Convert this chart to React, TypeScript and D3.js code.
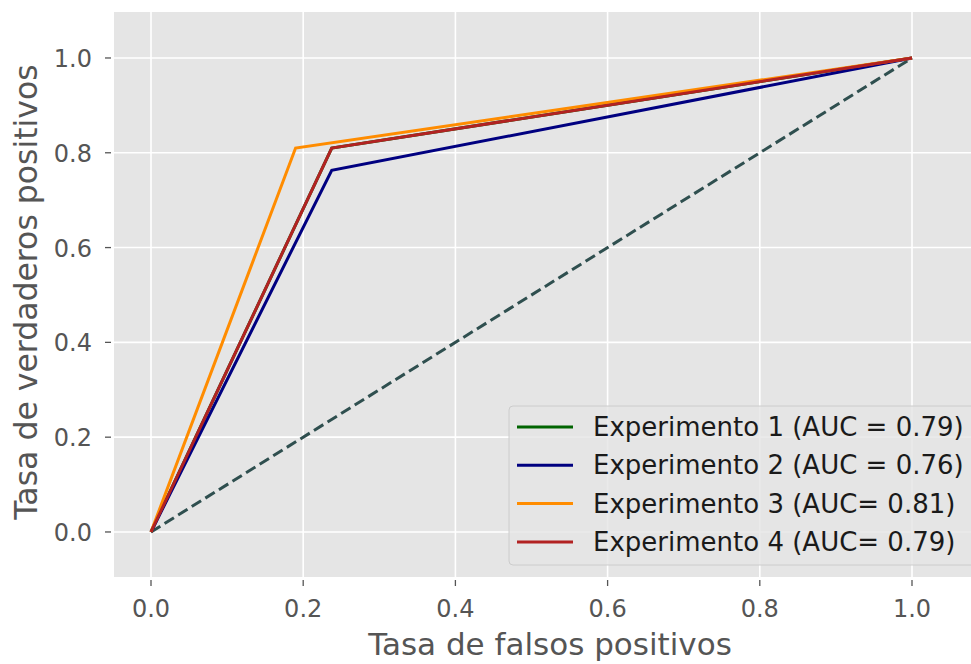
import React from "react";
import * as d3 from "d3";

const seriesNames = [
  "Experimento 1 (AUC = 0.79)",
  "Experimento 2 (AUC = 0.76)",
  "Experimento 3 (AUC= 0.81)",
  "Experimento 4 (AUC= 0.79)",
];
const seriesColors = ["#006400", "#000080", "#ff8c00", "#b22222"];
const fprValues = [
  [0, 0.2375, 1],
  [0, 0.2375, 1],
  [0, 0.19, 1],
  [0, 0.2375, 1],
];
const tprValues = [
  [0, 0.81, 1],
  [0, 0.763, 1],
  [0, 0.81, 1],
  [0, 0.81, 1],
];
const diagonal = [0, 1];
const xTicks = [0, 0.2, 0.4, 0.6, 0.8, 1.0];
const yTicks = [0, 0.2, 0.4, 0.6, 0.8, 1.0];

const W = 971;
const H = 664;
const font = "'DejaVu Sans', sans-serif";

export default function App() {
  const left = 114;
  const top = 12;
  const bottom = 577;
  const x = d3.scaleLinear().domain([0, 1]).range([151, 912]);
  const y = d3.scaleLinear().domain([-0.095, 1.097]).range([bottom, top]);
  const line = d3
    .line<[number, number]>()
    .x((d) => x(d[0]))
    .y((d) => y(d[1]));

  const legX = 509;
  const legY = 406;
  const rowH = 38.3;

  return (
    <svg
      width={W}
      height={H}
      style={{ position: "absolute", left: 0, top: 0, background: "#fff" }}
      fontFamily={font}
    >
      <rect x={left} y={top} width={W - left + 20} height={bottom - top} fill="#e5e5e5" />
      {xTicks.map((t) => (
        <line key={"gx" + t} x1={x(t)} x2={x(t)} y1={top} y2={bottom} stroke="#fff" strokeWidth={1.6} />
      ))}
      {yTicks.map((t) => (
        <line key={"gy" + t} x1={left} x2={W + 20} y1={y(t)} y2={y(t)} stroke="#fff" strokeWidth={1.6} />
      ))}
      {xTicks.map((t) => (
        <g key={"tx" + t}>
          <line x1={x(t)} x2={x(t)} y1={bottom + 3} y2={bottom + 9} stroke="#555" strokeWidth={1.3} />
          <text x={x(t)} y={bottom + 40} textAnchor="middle" fontSize={24} fill="#555">
            {t.toFixed(1)}
          </text>
        </g>
      ))}
      {yTicks.map((t) => (
        <g key={"ty" + t}>
          <line x1={left - 9} x2={left - 3} y1={y(t)} y2={y(t)} stroke="#555" strokeWidth={1.3} />
          <text x={left - 22} y={y(t) + 9} textAnchor="end" fontSize={24} fill="#555">
            {t.toFixed(1)}
          </text>
        </g>
      ))}
      <text x={550} y={655} textAnchor="middle" fontSize={31} fill="#555">
        Tasa de falsos positivos
      </text>
      <text
        transform={`translate(37, ${292}) rotate(-90)`}
        textAnchor="middle"
        fontSize={31.5}
        fill="#555"
      >
        Tasa de verdaderos positivos
      </text>
      <path
        d={line(diagonal.map((v) => [v, v] as [number, number])) || ""}
        fill="none"
        stroke="#2f4f4f"
        strokeWidth={3}
        strokeDasharray="11,5"
      />
      {seriesNames.map((n, i) => (
        <path
          key={n}
          d={line(fprValues[i].map((v, j) => [v, tprValues[i][j]] as [number, number])) || ""}
          fill="none"
          stroke={seriesColors[i]}
          strokeWidth={3}
          strokeLinejoin="miter"
        />
      ))}
      <rect
        x={legX}
        y={legY}
        width={W}
        height={159}
        rx={4}
        fill="#e5e5e5"
        fillOpacity={0.8}
        stroke="#cccccc"
        strokeWidth={1}
      />
      {seriesNames.map((n, i) => (
        <g key={"l" + n}>
          <line
            x1={legX + 8}
            x2={legX + 64}
            y1={legY + 21 + i * rowH}
            y2={legY + 21 + i * rowH}
            stroke={seriesColors[i]}
            strokeWidth={3}
          />
          <text x={legX + 84} y={legY + 30 + i * rowH} fontSize={26} fill="#1a1a1a">
            {n}
          </text>
        </g>
      ))}
    </svg>
  );
}
